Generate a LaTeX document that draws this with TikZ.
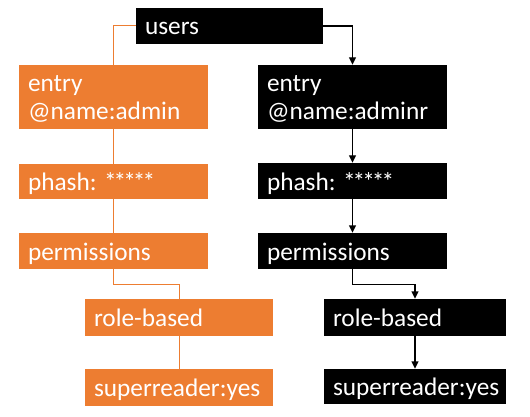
\documentclass[tikz,border=0pt]{standalone}
\usepackage{fontspec}
\setmainfont{Carlito}
\usetikzlibrary{arrows.meta,positioning}
\definecolor{obox}{HTML}{ED7D31}
\newcommand\pwstar{\makebox[9.6pt]{*}}
\newcommand\pwstars{\pwstar\pwstar\pwstar\pwstar\pwstar}
\tikzset{
  box/.style={rectangle, inner xsep=9pt, inner ysep=0pt, anchor=center, text=white,
    font=\fontsize{25.3}{28}\selectfont, align=left, text height=18pt, text depth=0pt},
  twoline/.style={text height=18pt, text depth=28pt},
  obox/.style={box, fill=obox},
  bbox/.style={box, fill=black},
  oline/.style={draw=obox, line width=1pt},
  bline/.style={draw=black, line width=1.4pt, -{Triangle[length=7.5pt,width=7pt]}},
}
\begin{document}
\begin{tikzpicture}[x=1pt,y=-1pt]
\useasboundingbox (0,0) rectangle (530,417);
\node[bbox, text width=169pt, minimum height=36pt] (users) at (229.5,26) {users};
% orange column
\node[obox, twoline, text width=171pt, minimum height=64pt] (oentry) at (113.5,97) {entry\\@name:admin};
\node[obox, text width=171pt, minimum height=35pt] (ophash) at (113.5,181.5) {phash:\hspace{9pt}\pwstars};
\node[obox, text width=171pt, minimum height=36pt] (operm) at (113.5,251) {permissions};
\node[obox, text width=170pt, minimum height=37pt] (orole) at (179,317.5) {role-based};
\node[obox, text width=170pt, minimum height=37pt] (osuper) at (179,387.5) {superreader:yes};
% black column
\node[bbox, twoline, text width=171pt, minimum height=64pt] (bentry) at (352.5,97) {entry\\@name:adminr};
\node[bbox, text width=171pt, minimum height=36pt] (bphash) at (352.5,181) {phash:\hspace{9pt}\pwstars};
\node[bbox, text width=171pt, minimum height=36pt] (bperm) at (352.5,251) {permissions};
\node[bbox, text width=164pt, minimum height=37pt] (brole) at (415,317.5) {role-based};
\node[bbox, text width=164pt, minimum height=35pt] (bsuper) at (415,386.5) {superreader:yes};
% orange connectors
\draw[oline] (users.west) -| (oentry.north);
\draw[oline] (oentry.south) -- (ophash.north);
\draw[oline] (ophash.south) -- (operm.north);
\draw[oline] (operm.south) -- ++(0,15) -| (orole.north);
\draw[oline] (orole.south) -- (osuper.north);
% black connectors
\draw[bline] (users.east) -| (bentry.north);
\draw[bline] (bentry.south) -- (bphash.north);
\draw[bline] (bphash.south) -- (bperm.north);
\draw[bline] (bperm.south) -- ++(0,15) -| (brole.north);
\draw[bline] (brole.south) -- (bsuper.north);
\end{tikzpicture}
\end{document}
